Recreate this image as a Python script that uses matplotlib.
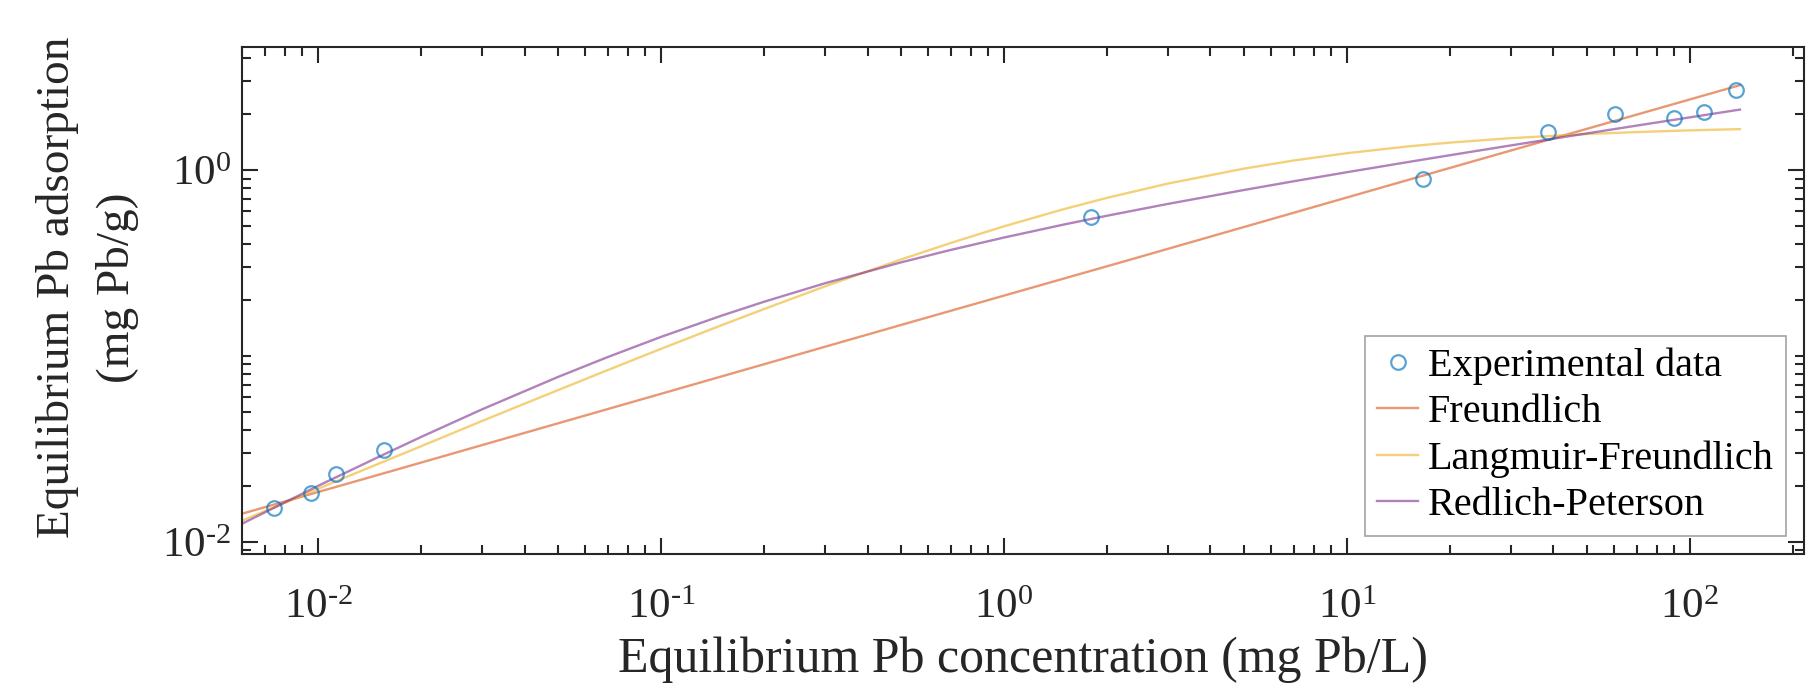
"""Pb adsorption isotherm — log-log fit comparison."""

import math

import matplotlib

matplotlib.use("Agg")
import matplotlib.pyplot as plt
from matplotlib.ticker import FixedLocator, FuncFormatter, LogLocator, NullFormatter

# experimental points (mg Pb/L, mg Pb/g)
exp_c = [0.00743, 0.00954, 0.01126, 0.01554, 1.788, 16.65, 38.6, 60.5, 89.7, 109.9, 136.1]
exp_q = [0.01529, 0.01828, 0.0231, 0.0311, 0.561, 0.891, 1.601, 2.0, 1.897, 2.04, 2.70]

# Freundlich is a straight line on log-log
freund_c = [0.006, 0.017, 0.5, 2.3, 20.1, 140.0]
freund_q = [0.01416, 0.0245, 0.1466, 0.327, 1.03, 2.862]

# the two curved fits on a shared grid
model_c = [0.006, 0.008, 0.01, 0.015, 0.02, 0.03, 0.05, 0.07, 0.1, 0.15, 0.2, 0.3, 0.5, 0.7,
           1.0, 1.5, 2.0, 3.0, 5.0, 7.0, 10.0, 15.0, 20.0, 30.0, 50.0, 70.0, 100.0, 140.0]
lf_q = [0.0130, 0.0162, 0.0193, 0.0263, 0.0327, 0.0446, 0.0654, 0.0840, 0.1092, 0.1462,
        0.1789, 0.2363, 0.3298, 0.4054, 0.498, 0.6172, 0.7091, 0.8449, 1.0172, 1.1255,
        1.232, 1.339, 1.405, 1.484, 1.562, 1.601, 1.635, 1.66]
rp_q = [0.0125, 0.0163, 0.0200, 0.0286, 0.0367, 0.0515, 0.0770, 0.0987, 0.1266, 0.1646,
        0.1958, 0.2457, 0.3183, 0.3718, 0.4334, 0.5098, 0.5681, 0.6569, 0.7804, 0.8703,
        0.9735, 1.1025, 1.2022, 1.3556, 1.5736, 1.7344, 1.920, 2.115]

legend_labels = ["Experimental data", "Freundlich", "Langmuir-Freundlich", "Redlich-Peterson"]
y_major = [0.01, 1.0]

plt.rcParams["font.family"] = ["Liberation Serif", "DejaVu Serif"]
plt.rcParams["mathtext.fontset"] = "custom"
plt.rcParams["mathtext.rm"] = "Liberation Serif"
plt.rcParams["mathtext.it"] = "Liberation Serif:italic"
plt.rcParams["mathtext.bf"] = "Liberation Serif:bold"

TXT = "#262626"


def _pow10(v, pos):
    # short hyphen in the exponent, like the original
    e = str(int(round(math.log10(v)))).replace("-", r"\text{-}")
    return rf"$\mathdefault{{10^{{{e}}}}}$"


fig = plt.figure(figsize=(18.16, 6.89), dpi=100)
ax = fig.add_axes([0.1333, 0.196, 0.86, 0.736])

ax.plot(exp_c, exp_q, "o", mfc="none", mec="#0072BD", ms=10.5, mew=1.6, alpha=0.65,
        label=legend_labels[0], zorder=4)
ax.plot(freund_c, freund_q, color="#D95319", lw=1.7, alpha=0.6, label=legend_labels[1])
ax.plot(model_c, lf_q, color="#EDB120", lw=1.7, alpha=0.6, label=legend_labels[2])
ax.plot(model_c, rp_q, color="#7E2F8E", lw=1.7, alpha=0.6, label=legend_labels[3])

ax.set_xscale("log"); ax.set_yscale("log")
ax.set_xlim(0.006, 215)
ax.set_ylim(0.0086, 4.6)

ax.xaxis.set_major_locator(LogLocator(base=10, numticks=20))
ax.xaxis.set_minor_locator(LogLocator(base=10, subs=range(2, 10), numticks=20))
ax.yaxis.set_major_locator(FixedLocator(y_major))
ax.yaxis.set_minor_locator(LogLocator(base=10, subs=range(1, 10), numticks=20))
for axis in (ax.xaxis, ax.yaxis):
    axis.set_major_formatter(FuncFormatter(_pow10))
    axis.set_minor_formatter(NullFormatter())

ax.tick_params(which="both", direction="in", top=True, right=True, width=1.5, color=TXT)
ax.tick_params(which="major", length=11.5, labelsize=31, labelcolor=TXT)
ax.tick_params(axis="x", which="major", pad=25)
ax.tick_params(axis="y", which="major", pad=8)
ax.tick_params(which="minor", length=6.5)
for s in ax.spines.values():
    s.set_linewidth(1.5); s.set_color(TXT)

ax.set_xlabel("Equilibrium Pb concentration (mg Pb/L)", fontsize=36, color=TXT, labelpad=7)
ax.set_ylabel("Equilibrium Pb adsorption\n(mg Pb/g)", fontsize=34, color=TXT,
              linespacing=1.5)
ax.yaxis.set_label_coords(-0.066, 0.525)

leg = ax.legend(loc="lower right", fontsize=29, frameon=True, fancybox=False,
                edgecolor="#8c8c8c", handlelength=1.0, handletextpad=0.25,
                borderpad=0.3, labelspacing=0.22, borderaxespad=0.45)
leg.get_frame().set_linewidth(1.2)
for t in leg.get_texts():
    t.set_color("black")

fig.savefig("out.png", dpi=100)
plt.close(fig)
